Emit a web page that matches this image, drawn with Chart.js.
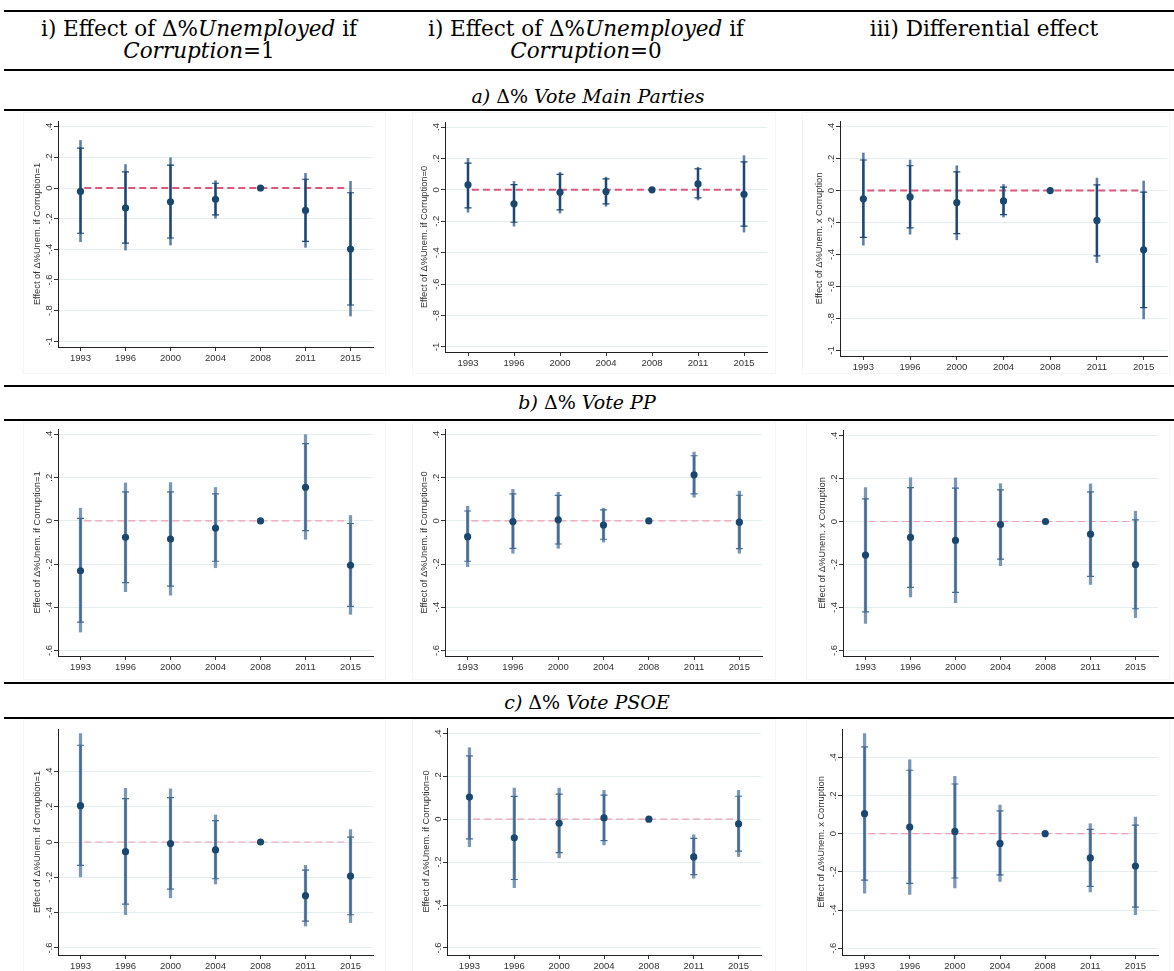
<!DOCTYPE html>
<html><head><meta charset="utf-8">
<script src="https://cdn.jsdelivr.net/npm/chart.js@4"></script>
<style>
body{margin:0;background:#fff;width:1174px;height:971px;position:relative;overflow:hidden;font-family:"DejaVu Serif",serif}
.rule{position:absolute;left:4px;width:1170px;background:#000}
.t{position:absolute;transform:translateX(-50%);white-space:nowrap;font-size:19px;color:#000;line-height:20px;height:20px}
.h{font-size:21.5px;line-height:22px;height:22px}
.frame{position:absolute;border:1px solid #f6f6f6;box-sizing:border-box}
canvas{position:absolute}
</style></head><body>
<div class="rule" style="top:10px;height:2px"></div>
<div class="t h" style="left:199px;top:18px">i) Effect of Δ%<i>Unemployed</i> if</div>
<div class="t h" style="left:199px;top:40px"><i>Corruption</i>=1</div>
<div class="t h" style="left:586px;top:18px">i) Effect of Δ%<i>Unemployed</i> if</div>
<div class="t h" style="left:586px;top:40px"><i>Corruption</i>=0</div>
<div class="t h" style="left:984px;top:18px">iii) Differential effect</div>
<div class="rule" style="top:69px;height:2px"></div>
<div class="t" style="left:588px;top:86px"><i>a)</i> Δ% <i>Vote Main Parties</i></div>
<div class="rule" style="top:109px;height:2px"></div>
<div class="frame" style="left:23px;top:112px;width:363px;height:262px"></div>
<div class="frame" style="left:412px;top:112px;width:364px;height:262px"></div>
<div class="frame" style="left:802px;top:112px;width:368px;height:262px"></div>
<div class="rule" style="top:385px;height:2px"></div>
<div class="t" style="left:587px;top:392px"><i>b)</i> Δ% <i>Vote PP</i></div>
<div class="rule" style="top:419px;height:2px"></div>
<div class="frame" style="left:23px;top:422px;width:363px;height:258px"></div>
<div class="frame" style="left:412px;top:422px;width:364px;height:258px"></div>
<div class="frame" style="left:806px;top:422px;width:364px;height:258px"></div>
<div class="rule" style="top:682px;height:1.5px"></div>
<div class="t" style="left:587px;top:692px"><i>c)</i> Δ% <i>Vote PSOE</i></div>
<div class="rule" style="top:717px;height:1.5px"></div>
<div class="frame" style="left:23px;top:719px;width:363px;height:260px"></div>
<div class="frame" style="left:412px;top:719px;width:364px;height:260px"></div>
<div class="frame" style="left:806px;top:719px;width:364px;height:260px"></div>
<script>
// ---------- data ----------
const YEARS = ['1993','1996','2000','2004','2008','2011','2015'];
const TICKS_A = [-1,-0.8,-0.6,-0.4,-0.2,0,0.2,0.4];
const TICKS_BC = [-0.6,-0.4,-0.2,0,0.2,0.4];

// a) Δ% Vote Main Parties — Corruption=1
const a1_est  = [-0.022,-0.130,-0.090,-0.074,0,-0.146,-0.398];
const a1_hi95 = [0.310,0.153,0.197,0.048,null,0.096,0.044];
const a1_hi90 = [0.260,0.105,0.149,0.031,null,0.057,-0.031];
const a1_lo90 = [-0.295,-0.360,-0.326,-0.175,null,-0.348,-0.763];
const a1_lo95 = [-0.350,-0.405,-0.372,-0.197,null,-0.387,-0.835];
// a) Corruption=0
const a0_est  = [0.032,-0.089,-0.015,-0.011,0,0.038,-0.028];
const a0_hi95 = [0.200,0.053,0.112,0.081,null,0.144,0.218];
const a0_hi90 = [0.170,0.034,0.098,0.070,null,0.134,0.178];
const a0_lo90 = [-0.115,-0.206,-0.127,-0.089,null,-0.051,-0.231];
const a0_lo95 = [-0.142,-0.231,-0.148,-0.104,null,-0.064,-0.269];
// a) differential
const ad_est  = [-0.052,-0.040,-0.075,-0.065,0,-0.187,-0.371];
const ad_hi95 = [0.235,0.191,0.155,0.038,null,0.078,0.059];
const ad_hi90 = [0.191,0.155,0.117,0.021,null,0.036,-0.010];
const ad_lo90 = [-0.293,-0.233,-0.270,-0.151,null,-0.409,-0.732];
const ad_lo95 = [-0.342,-0.273,-0.308,-0.166,null,-0.451,-0.803];

// b) Δ% Vote PP
const b1_est  = [-0.231,-0.076,-0.084,-0.033,0,0.156,-0.206];
const b1_hi95 = [0.059,0.176,0.178,0.155,null,0.400,0.025];
const b1_hi90 = [0.012,0.135,0.135,0.125,null,0.358,-0.012];
const b1_lo90 = [-0.469,-0.286,-0.302,-0.187,null,-0.045,-0.396];
const b1_lo95 = [-0.515,-0.328,-0.344,-0.217,null,-0.085,-0.433];
const b0_est  = [-0.073,-0.003,0.005,-0.019,0,0.214,-0.006];
const b0_hi95 = [0.068,0.146,0.133,0.059,null,0.319,0.138];
const b0_hi90 = [0.046,0.125,0.118,0.051,null,0.302,0.119];
const b0_lo90 = [-0.187,-0.127,-0.107,-0.085,null,0.125,-0.128];
const b0_lo95 = [-0.212,-0.150,-0.127,-0.098,null,0.110,-0.150];
const bd_est  = [-0.156,-0.074,-0.088,-0.014,0,-0.059,-0.200];
const bd_hi95 = [0.158,0.204,0.203,0.176,null,0.175,0.048];
const bd_hi90 = [0.105,0.158,0.155,0.147,null,0.138,0.008];
const bd_lo90 = [-0.421,-0.307,-0.330,-0.175,null,-0.255,-0.406];
const bd_lo95 = [-0.474,-0.351,-0.378,-0.206,null,-0.293,-0.447];

// c) Δ% Vote PSOE
const c1_est  = [0.206,-0.055,-0.009,-0.045,0,-0.304,-0.193];
const c1_hi95 = [0.614,0.304,0.301,0.153,null,-0.132,0.070];
const c1_hi90 = [0.548,0.246,0.251,0.121,null,-0.159,0.028];
const c1_lo90 = [-0.132,-0.352,-0.267,-0.208,null,-0.448,-0.412];
const c1_lo95 = [-0.198,-0.412,-0.316,-0.238,null,-0.476,-0.456];
const c0_est  = [0.103,-0.087,-0.019,0.006,0,-0.176,-0.022];
const c0_hi95 = [0.333,0.145,0.145,0.134,null,-0.073,0.134];
const c0_hi90 = [0.295,0.106,0.117,0.112,null,-0.089,0.107];
const c0_lo90 = [-0.092,-0.281,-0.156,-0.100,null,-0.258,-0.149];
const c0_lo95 = [-0.128,-0.319,-0.180,-0.120,null,-0.275,-0.174];
const cd_est  = [0.105,0.035,0.012,-0.051,0,-0.127,-0.169];
const cd_hi95 = [0.524,0.387,0.300,0.150,null,0.052,0.087];
const cd_hi90 = [0.454,0.332,0.260,0.119,null,0.023,0.045];
const cd_lo90 = [-0.243,-0.260,-0.232,-0.216,null,-0.276,-0.384];
const cd_lo95 = [-0.311,-0.318,-0.284,-0.250,null,-0.305,-0.424];

const TITLE1 = 'Effect of Δ%Unem. if Corruption=1';
const TITLE0 = 'Effect of Δ%Unem. if Corruption=0';
const TITLED = 'Effect of Δ%Unem. x Corruption';

// ---------- drawing ----------
const FONT = {family:'Liberation Sans, Arial, sans-serif', size:9.5};
const TFONT = {family:'Liberation Sans, Arial, sans-serif', size:9.3};
function fmt(v){
  if (Math.abs(v) < 1e-9) return '0';
  let s = String(Math.round(Math.abs(v)*10)/10).replace(/^0\./,'.');
  return (v<0?'-':'') + s;
}
const STY = {
  a:{outer:'#5c7fa5', inner:'#1c4775', ow:1.9, iw:1.5, zero:'#d9587c', zw:2, dash:[7,4]},
  b:{outer:'#7a97b5', inner:'#456b93', ow:2.6, iw:1.4, zero:'#eda0b4', zw:1.2, dash:[7,4]},
  c:{outer:'#7a97b5', inner:'#456b93', ow:2.6, iw:1.4, zero:'#eda0b4', zw:1.2, dash:[7,4]}
};
function panel(rect, yr, ticks, title, est, hi95, hi90, lo90, lo95, st){
  const PADL=52, PADT=6, PADR=6, PADB=24;
  const L=Math.round(rect[0]), T=Math.round(rect[1]), R=Math.round(rect[2]), B=Math.round(rect[3]);
  const w=R-L+PADL+PADR, h=B-T+PADT+PADB;
  const c=document.createElement('canvas');
  c.width=w; c.height=h; c.style.width=w+'px'; c.style.height=h+'px';
  c.style.left=(L-PADL)+'px'; c.style.top=(T-PADT)+'px';
  document.body.appendChild(c);
  const outer = lo95.map((v,i)=> v==null?null:[v,hi95[i]]);
  const inner = lo90.map((v,i)=> v==null?null:[v,hi90[i]]);
  new Chart(c,{
    type:'bar',
    data:{labels:YEARS, datasets:[
      {type:'line', xAxisID:'x2', data:[{x:0,y:0},{x:1,y:0}], borderColor:st.zero, borderWidth:st.zw, borderDash:st.dash, pointRadius:0, order:6},
      {type:'bar', data:outer, backgroundColor:st.outer, barThickness:st.ow, grouped:false, borderWidth:0, order:5},
      {type:'bar', data:inner, backgroundColor:st.inner, barThickness:st.iw, grouped:false, borderWidth:0, order:4},
      {type:'line', data:hi90, showLine:false, pointStyle:'line', pointRadius:3.5, borderColor:st.inner, borderWidth:1.2, order:3},
      {type:'line', data:lo90, showLine:false, pointStyle:'line', pointRadius:3.5, borderColor:st.inner, borderWidth:1.2, order:2},
      {type:'line', data:est, showLine:false, pointStyle:'circle', pointRadius:3.6, backgroundColor:'#1a476f', borderColor:'#1a476f', borderWidth:0, order:1}
    ]},
    options:{
      responsive:false, animation:false, events:[],
      layout:{padding:{left:0,top:PADT,right:PADR,bottom:0}},
      plugins:{legend:{display:false}, tooltip:{enabled:false}},
      scales:{
        x:{type:'category', offset:true,
           grid:{display:true, drawOnChartArea:false, drawTicks:true, tickLength:4, tickColor:'#333', offset:false},
           border:{display:true, color:'#222', width:1},
           ticks:{font:FONT, color:'#333', padding:2, autoSkip:false, maxRotation:0, minRotation:0},
           afterFit:s=>{s.height=PADB;}},
        x2:{type:'linear', display:false, min:0, max:1},
        y:{min:yr[0], max:yr[1],
           afterBuildTicks:s=>{s.ticks=ticks.map(v=>({value:v}));},
           grid:{color:'#e4edef', lineWidth:1, drawTicks:true, tickLength:4, tickColor:'#333'},
           border:{display:true, color:'#222', width:1},
           ticks:{callback:v=>fmt(v), font:FONT, color:'#333', minRotation:90, maxRotation:90, crossAlign:'center', padding:-1, autoSkip:false},
           title:{display:true, text:title, font:TFONT, color:'#333', padding:{top:26, bottom:0}},
           afterFit:s=>{s.width=PADL;}}
      }
    }
  });
}
panel([58.3,121,373.3,346.7], [-1.037,0.437], TICKS_A, TITLE1, a1_est,a1_hi95,a1_hi90,a1_lo90,a1_lo95, STY.a);
panel([445,121.7,766.7,351.7], [-1.032,0.432], TICKS_A, TITLE0, a0_est,a0_hi95,a0_hi90,a0_lo90,a0_lo95, STY.a);
panel([840,121,1166.7,355.7], [-1.035,0.435], TICKS_A, TITLED, ad_est,ad_hi95,ad_hi90,ad_lo90,ad_lo95, STY.a);
panel([58.3,429.3,373.3,656], [-0.626,0.426], TICKS_BC, TITLE1, b1_est,b1_hi95,b1_hi90,b1_lo90,b1_lo95, STY.b);
panel([445,429.3,761.7,656], [-0.626,0.426], TICKS_BC, TITLE0, b0_est,b0_hi95,b0_hi90,b0_lo90,b0_lo95, STY.b);
panel([843.3,430,1157.7,656], [-0.626,0.426], TICKS_BC, TITLED, bd_est,bd_hi95,bd_hi90,bd_lo90,bd_lo95, STY.b);
panel([58.3,729.3,373.3,955], [-0.640,0.640], TICKS_BC, TITLE1, c1_est,c1_hi95,c1_hi90,c1_lo90,c1_lo95, STY.c);
panel([446.7,728.3,761,955], [-0.633,0.425], TICKS_BC, TITLE0, c0_est,c0_hi95,c0_hi90,c0_lo90,c0_lo95, STY.c);
panel([841.7,729.3,1157.7,955.3], [-0.635,0.548], TICKS_BC, TITLED, cd_est,cd_hi95,cd_hi90,cd_lo90,cd_lo95, STY.c);
</script>
</body></html>
